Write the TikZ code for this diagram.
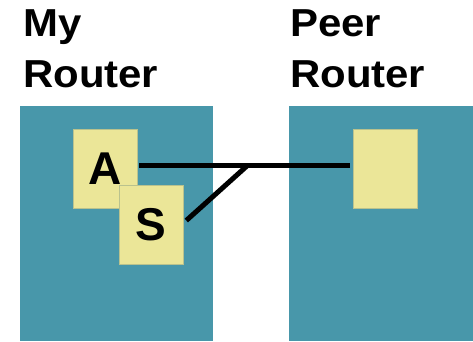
\documentclass[tikz,border=0pt]{standalone}
\usepackage{fontspec}
\setmainfont{Liberation Sans}
\definecolor{routerteal}{HTML}{4897AA}
\definecolor{cardyellow}{HTML}{EBE698}
\definecolor{cardedge}{HTML}{B9C28E}
\begin{document}
\begin{tikzpicture}[x=1pt,y=-1pt,
  routerbox/.style={fill=routerteal,draw=none},
  card/.style={fill=cardyellow,draw=cardedge,line width=0.6pt,minimum width=64pt,minimum height=79pt,inner sep=0pt,font=\bfseries\fontsize{46}{46}\selectfont},
  title/.style={align=left,inner sep=0pt,anchor=base west,xscale=1.075,transform shape,font=\bfseries\fontsize{39}{51}\selectfont},
  link/.style={line width=5pt,black,line cap=butt}]
\useasboundingbox (0,0) rectangle (473,341);
\path[routerbox] (20,106) rectangle (213,341);
\path[routerbox] (289,106) rectangle (473,341);
\node[title] (t1) at (23,87) {My\\Router};
\node[title] (t2) at (290,87) {Peer\\Router};
\node[card] (a) at (105,168.5) {A};
\node[card] (s) at (151,224.5) {S};
\node[card] (p) at (385.5,168.5) {};
\coordinate (j) at (248,165);
\draw[link,shorten <=2pt,shorten >=3pt] (a.east |- j) -- (p.west |- j);
\draw[link] ([yshift=4pt,xshift=3pt]s.east) -- (j);
\end{tikzpicture}
\end{document}
